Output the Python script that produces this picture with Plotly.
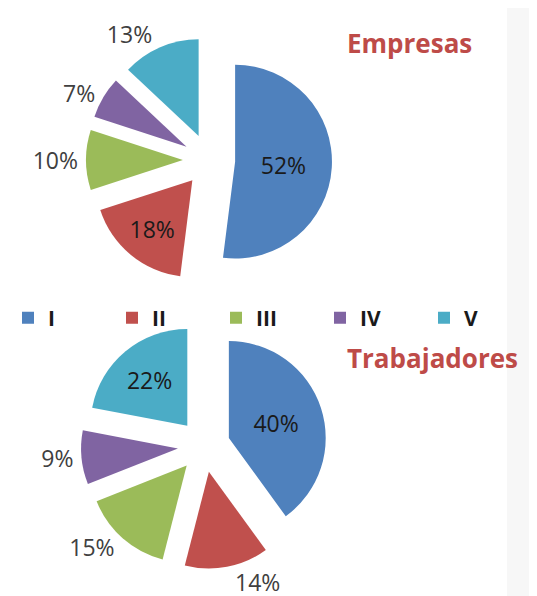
import plotly.graph_objects as go

labels = ['I', 'II', 'III', 'IV', 'V']
empresas = [52, 18, 10, 7, 13]
trabajadores = [40, 14, 15, 9, 22]
colors = ['#4F81BD', '#C0504D', '#9BBB59', '#8064A2', '#4BACC6']

W, H = 537, 596
FONT = 'Open Sans'

fig = go.Figure()

fig.add_trace(go.Pie(
    labels=labels,
    values=empresas,
    sort=False,
    direction='clockwise',
    rotation=0,
    pull=0.27,
    marker={'colors': colors, 'line': {'width': 0}},
    texttemplate='%{value}%',
    textposition=['inside', 'inside', 'outside', 'outside', 'outside'],
    insidetextorientation='horizontal',
    insidetextfont={'color': '#1a1a1a', 'size': 23, 'family': FONT},
    outsidetextfont={'color': '#404040', 'size': 23, 'family': FONT},
    domain={'x': [0.1453, 0.6034], 'y': [0.5386, 0.9513]},
    hoverinfo='label+percent',
))

fig.add_trace(go.Pie(
    labels=labels,
    values=trabajadores,
    sort=False,
    direction='clockwise',
    rotation=0,
    pull=0.27,
    marker={'colors': colors, 'line': {'width': 0}},
    texttemplate='%{value}%',
    textposition=['inside', 'outside', 'outside', 'outside', 'inside'],
    insidetextorientation='horizontal',
    insidetextfont={'color': '#1a1a1a', 'size': 23, 'family': FONT},
    outsidetextfont={'color': '#404040', 'size': 23, 'family': FONT},
    domain={'x': [0.1359, 0.594], 'y': [0.0587, 0.4715]},
    showlegend=False,
    hoverinfo='label+percent',
))

fig.update_layout(
    width=W,
    height=H,
    margin={'l': 0, 'r': 0, 't': 0, 'b': 0, 'autoexpand': False},
    paper_bgcolor='white',
    font={'family': FONT, 'color': '#404040'},
    legend={
        'orientation': 'h',
        'x': 0.0,
        'xanchor': 'left',
        'y': 1 - 310 / H,
        'yanchor': 'middle',
        'bgcolor': 'rgba(0,0,0,0)',
        'font': {'size': 21, 'color': '#1a1a1a', 'weight': 'bold'},
        'entrywidth': 59,
        'entrywidthmode': 'pixels',
        'traceorder': 'normal',
    },
    shapes=[{
        'type': 'rect', 'xref': 'paper', 'yref': 'paper',
        'x0': 499 / W, 'x1': 1, 'y0': 0, 'y1': 1,
        'fillcolor': '#f7f7f7', 'line': {'width': 0}, 'layer': 'below',
    }],
    annotations=[
        {'text': '<b>Empresas</b>', 'x': 337 / W, 'y': 1 - 35 / H,
         'xref': 'paper', 'yref': 'paper', 'xanchor': 'left', 'yanchor': 'middle',
         'showarrow': False, 'font': {'size': 26, 'color': '#BE4B48', 'family': FONT}},
        {'text': '<b>Trabajadores</b>', 'x': 337 / W, 'y': 1 - 350 / H,
         'xref': 'paper', 'yref': 'paper', 'xanchor': 'left', 'yanchor': 'middle',
         'showarrow': False, 'font': {'size': 26, 'color': '#BE4B48', 'family': FONT}},
    ],
)

fig.write_html("out.html")
